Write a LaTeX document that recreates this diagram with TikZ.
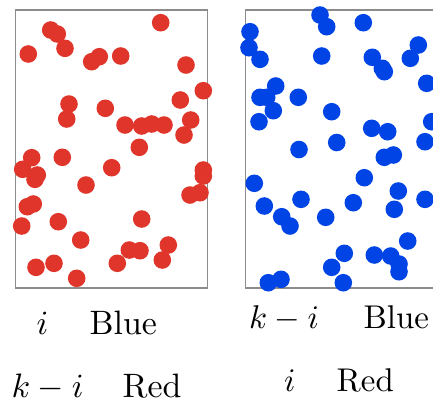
\documentclass[tikz,border=0pt]{standalone}
\usepackage{graphicx}
\definecolor{dotred}{HTML}{E0352A}
\definecolor{dotblue}{HTML}{0044E6}
\definecolor{framegray}{HTML}{8C8C8C}
\newcommand{\lblL}[1]{\scalebox{3.4}{#1}}
\newcommand{\lblR}[1]{\scalebox{3.3}{#1}}
\begin{document}
\begin{tikzpicture}[x=1bp,y=-1bp,
  frame/.style={draw=framegray,line width=1.6bp},
  rdot/.style={fill=dotred},
  bdot/.style={fill=dotblue},
  lbl/.style={anchor=base west,inner sep=0pt,font=\fontsize{10}{12}\selectfont}]
\clip (0,0) rectangle (433,403);
\fill[white] (0,0) rectangle (433,403);
% left box
\draw[frame] (15.5,10) rectangle (207.5,288);
\foreach \x/\y in {160.7/22.7,50.7/30,57.3/34,28.3/54,65/48.3,91.7/61.7,99.3/56.7,120.7/56,186/65,203.3/90.7,180.3/100,69/104,66.7/119,105.3/108.3,125/125,141.7/126,151.7/124,164/125,190.7/120,184/135,139.3/147.3,31.7/157.7,62.3/157.3,22.7/169.3,37.3/175,35/179.3,111.7/167.7,86/185,203.3/170,203.3/176,190/195,200/192.7,33.3/204,27.3/206.7,21.7/226,58.3/221.7,141.7/219,80.7/240,129.3/250,140/250.7,168.3/245,162.3/260,117.3/263.3,36/267.3,54/263.3,76.7/278.3}
  \fill[rdot] (\x,\y) circle (8.8);
% right box
\draw[frame] (245.5,10) rectangle (445,288);
\foreach \x/\y in {320/15,326.7/26.7,363.3/22.7,250/31.7,249/47.7,260/59.3,321.7/56,372.3/57.3,382.3/68.3,384.3/71.7,418.3/45,410.3/58.3,426.7/83.3,275.7/86,260/97.3,266.7/97.3,298.3/97.3,273.3/110.7,259/121.7,331.7/111.7,371.7/128.3,387.7/131.7,431.7/121.7,425/141.7,336.7/142.5,299/149.5,384.3/157.3,393.3/155,254.3/183.3,364.3/177.7,398.3/191,425/199.3,264.3/206,301/199.3,353.3/202.7,394.3/209.3,281.7/216.7,290/226,325.7/217.3,407.7/241,344.3/253.3,374.3/255,390.7/256,399/264,399/271.7,331.7/267.3,343.3/282.7,268.3/282.7,281/279.3}
  \fill[bdot] (\x,\y) circle (8.8);
% labels
\node[lbl] (li) at (36.5,334.5) {\lblL{$i$}};
\node[lbl] (lblue) at (89.5,334.5) {\lblL{Blue}};
\node[lbl] (lki) at (11.5,397) {\lblL{$k-i$}};
\node[lbl] (lred) at (122.5,397) {\lblL{Red}};
\node[lbl] (rki) at (249,328.3) {\lblR{$k-i$}};
\node[lbl] (rblue) at (363.5,328.3) {\lblR{Blue}};
\node[lbl] (ri) at (284,391.5) {\lblR{$i$}};
\node[lbl] (rred) at (336.5,391.5) {\lblR{Red}};
\end{tikzpicture}
\end{document}
